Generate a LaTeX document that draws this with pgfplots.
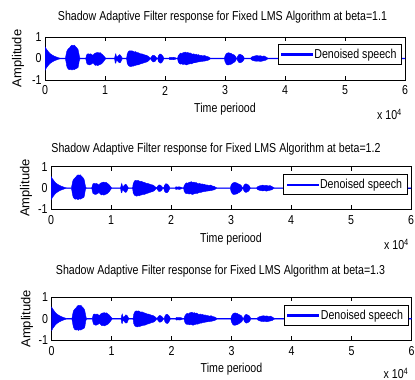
\documentclass[border=0pt]{standalone}
\usepackage{fontspec}
\setmainfont{Liberation Sans}[FakeStretch=0.82]
\newfontfamily\vfont{Liberation Sans}
\usepackage{pgfplots}
\usepackage{pgfplotstable}
\pgfplotsset{compat=1.18}

% envelope of the denoised speech: upper edge left to right, then lower edge right to left
\pgfplotstableread{
x y
0 0.55
0.01 0.5
0.02 0.45
0.04 0.38
0.06 0.3
0.08 0.24
0.11 0.18
0.14 0.13
0.17 0.09
0.2 0.06
0.23 0.03
0.26 0.015
0.34 0.015
0.35 0.15
0.36 0.3
0.37 0.38
0.39 0.45
0.41 0.5
0.43 0.58
0.45 0.62
0.47 0.6
0.49 0.62
0.51 0.55
0.53 0.5
0.55 0.42
0.56 0.3
0.57 0.15
0.58 0.03
0.59 0.015
0.68 0.015
0.69 0.12
0.7 0.2
0.72 0.22
0.74 0.2
0.76 0.22
0.78 0.18
0.8 0.15
0.82 0.22
0.84 0.25
0.86 0.27
0.88 0.28
0.9 0.26
0.92 0.27
0.94 0.22
0.96 0.18
0.98 0.12
1.0 0.05
1.01 0.015
1.16 0.015
1.17 0.15
1.18 0.22
1.19 0.1
1.2 0.06
1.22 0.12
1.24 0.18
1.26 0.15
1.28 0.05
1.29 0.015
1.36 0.015
1.37 0.2
1.39 0.33
1.41 0.36
1.43 0.35
1.45 0.36
1.47 0.33
1.49 0.3
1.51 0.32
1.53 0.28
1.55 0.27
1.57 0.25
1.59 0.22
1.61 0.22
1.63 0.2
1.65 0.18
1.67 0.16
1.69 0.15
1.71 0.12
1.73 0.08
1.75 0.03
1.76 0.015
1.78 0.1
1.8 0.15
1.82 0.14
1.84 0.1
1.86 0.03
1.88 0.015
1.89 0.12
1.91 0.2
1.93 0.2
1.95 0.16
1.97 0.08
1.98 0.015
2.07 0.015
2.08 0.06
2.11 0.05
2.14 0.06
2.17 0.04
2.19 0.015
2.21 0.015
2.22 0.12
2.24 0.2
2.26 0.25
2.28 0.22
2.3 0.27
2.32 0.28
2.34 0.3
2.36 0.26
2.38 0.28
2.4 0.25
2.42 0.26
2.44 0.22
2.46 0.2
2.48 0.22
2.5 0.18
2.52 0.2
2.54 0.16
2.56 0.18
2.58 0.14
2.6 0.15
2.63 0.12
2.66 0.14
2.69 0.1
2.72 0.08
2.75 0.03
2.76 0.015
2.99 0.015
3.0 0.12
3.02 0.22
3.04 0.25
3.06 0.27
3.08 0.25
3.1 0.24
3.12 0.2
3.14 0.18
3.16 0.15
3.18 0.08
3.19 0.015
3.2 0.015
3.21 0.1
3.23 0.18
3.25 0.2
3.27 0.17
3.29 0.15
3.31 0.08
3.32 0.015
3.43 0.015
3.44 0.06
3.47 0.1
3.5 0.12
3.53 0.14
3.56 0.12
3.59 0.13
3.62 0.1
3.65 0.12
3.68 0.08
3.7 0.04
3.72 0.015
6 0.015
6 -0.015
3.72 -0.015
3.7 -0.04
3.68 -0.08
3.65 -0.1
3.62 -0.12
3.59 -0.14
3.56 -0.12
3.53 -0.13
3.5 -0.12
3.47 -0.1
3.44 -0.06
3.43 -0.015
3.32 -0.015
3.31 -0.08
3.29 -0.15
3.27 -0.18
3.25 -0.2
3.23 -0.18
3.21 -0.1
3.2 -0.015
3.19 -0.015
3.18 -0.1
3.16 -0.16
3.14 -0.2
3.12 -0.23
3.1 -0.27
3.08 -0.28
3.06 -0.3
3.04 -0.3
3.02 -0.26
3.0 -0.15
2.99 -0.015
2.76 -0.015
2.75 -0.03
2.72 -0.08
2.69 -0.1
2.66 -0.12
2.63 -0.13
2.6 -0.14
2.58 -0.15
2.56 -0.16
2.54 -0.17
2.52 -0.18
2.5 -0.2
2.48 -0.2
2.46 -0.22
2.44 -0.25
2.42 -0.24
2.4 -0.26
2.38 -0.27
2.36 -0.3
2.34 -0.28
2.32 -0.26
2.3 -0.28
2.28 -0.25
2.26 -0.26
2.24 -0.24
2.22 -0.15
2.21 -0.015
2.19 -0.015
2.17 -0.04
2.14 -0.06
2.11 -0.05
2.08 -0.06
2.07 -0.015
1.98 -0.015
1.97 -0.08
1.95 -0.18
1.93 -0.22
1.91 -0.2
1.89 -0.14
1.88 -0.015
1.86 -0.03
1.84 -0.12
1.82 -0.15
1.8 -0.16
1.78 -0.1
1.76 -0.015
1.75 -0.03
1.73 -0.1
1.71 -0.14
1.69 -0.17
1.67 -0.18
1.65 -0.2
1.63 -0.22
1.61 -0.24
1.59 -0.25
1.57 -0.28
1.55 -0.3
1.53 -0.3
1.51 -0.32
1.49 -0.33
1.47 -0.36
1.45 -0.35
1.43 -0.38
1.41 -0.36
1.39 -0.33
1.37 -0.22
1.36 -0.015
1.29 -0.015
1.28 -0.05
1.26 -0.18
1.24 -0.2
1.22 -0.15
1.2 -0.08
1.19 -0.1
1.18 -0.22
1.17 -0.2
1.16 -0.015
1.01 -0.015
1.0 -0.05
0.98 -0.13
0.96 -0.2
0.94 -0.25
0.92 -0.28
0.9 -0.3
0.88 -0.33
0.86 -0.3
0.84 -0.32
0.82 -0.27
0.8 -0.2
0.78 -0.25
0.76 -0.28
0.74 -0.3
0.72 -0.28
0.7 -0.25
0.69 -0.15
0.68 -0.015
0.59 -0.015
0.58 -0.03
0.57 -0.12
0.56 -0.3
0.55 -0.42
0.53 -0.46
0.51 -0.48
0.49 -0.52
0.47 -0.5
0.45 -0.54
0.43 -0.5
0.41 -0.52
0.39 -0.5
0.37 -0.42
0.36 -0.32
0.35 -0.15
0.34 -0.015
0.26 -0.015
0.23 -0.03
0.2 -0.06
0.17 -0.09
0.14 -0.13
0.11 -0.18
0.08 -0.24
0.06 -0.3
0.04 -0.38
0.02 -0.45
0.01 -0.52
0 -0.55
}\sig

\pgfplotsset{
  every axis/.append style={font=\fontsize{13}{15}\selectfont},
  /pgf/number format/assume math mode=true,
  panel/.style={
    scale only axis, width=360bp,
    xmin=0, xmax=6, ymin=-1, ymax=1,
    xtick={0,1,2,3,4,5,6}, ytick={-1,0,1},
    tick align=inside, major tick length=4bp,
    axis line style={black, line width=0.6bp},
    tick style={black, line width=0.6bp},
    xticklabel style={anchor=center, yshift=-10.5bp},
    every axis title/.style={at={(axis description cs:0.5,1)}, anchor=center},
    xlabel={Time periood}, ylabel={Amplitude},
    ylabel style={font=\vfont\fontsize{13}{15}\selectfont},
    legend style={draw=black, line width=0.6bp, anchor=north east,
      font=\fontsize{13}{15}\selectfont, inner xsep=3bp, inner ysep=2.5bp,
      nodes={inner sep=2bp}},
    legend image code/.code={\fill[blue] (0bp,-0.6bp) rectangle (31bp,0.6bp);},
  },
}

\begin{document}
\begin{tikzpicture}
\useasboundingbox (0,0) rectangle (415bp,380bp);

\begin{axis}[panel, at={(45bp,300bp)}, anchor=south west, height=43bp,
  title={Shadow Adaptive Filter response for Fixed LMS Algorithm at beta=1.1},
  title style={yshift=20bp, xshift=-2.5bp},
  xlabel style={at={(axis description cs:0.5,0)}, anchor=center, yshift=-29.5bp},
  ylabel style={at={(axis description cs:-0.075,0.5)}, anchor=center},
  legend style={at={(axis description cs:0.991,0.837)}}]
\addplot[blue, fill=blue, line width=0.4bp] table[x=x,y=y]{\sig};
\addlegendentry{Denoised speech}
\end{axis}

\begin{axis}[panel, at={(51bp,170.5bp)}, anchor=south west, height=42.8bp,
  title={Shadow Adaptive Filter response for Fixed LMS Algorithm at beta=1.2},
  title style={yshift=17.7bp, xshift=-15bp},
  xlabel style={at={(axis description cs:0.5,0)}, anchor=center, yshift=-29.5bp},
  ylabel style={at={(axis description cs:-0.0694,0.5)}, anchor=center},
  legend style={at={(axis description cs:0.99,0.82)}}]
\addplot[blue, fill=blue, line width=0.4bp] table[x=x,y=y]{\sig};
\addlegendentry{Denoised speech}
\end{axis}

\begin{axis}[panel, at={(51.5bp,39.5bp)}, anchor=south west, height=43.5bp,
  title={Shadow Adaptive Filter response for Fixed LMS Algorithm at beta=1.3},
  title style={yshift=26bp, xshift=-11bp},
  xlabel style={at={(axis description cs:0.5,0)}, anchor=center, yshift=-28.5bp},
  ylabel style={at={(axis description cs:-0.068,0.5)}, anchor=center},
  legend style={at={(axis description cs:0.991,0.816)}}]
\addplot[blue, fill=blue, line width=0.4bp] table[x=x,y=y]{\sig};
\addlegendentry{Denoised speech}
\end{axis}

\node[anchor=base east, inner sep=0pt, font=\fontsize{13}{15}\selectfont] at (402bp,260bp) {x 10\textsuperscript{4}};
\node[anchor=base east, inner sep=0pt, font=\fontsize{13}{15}\selectfont] at (409bp,130bp) {x 10\textsuperscript{4}};
\node[anchor=base east, inner sep=0pt, font=\fontsize{13}{15}\selectfont] at (408.5bp,1.5bp) {x 10\textsuperscript{4}};
\end{tikzpicture}
\end{document}
